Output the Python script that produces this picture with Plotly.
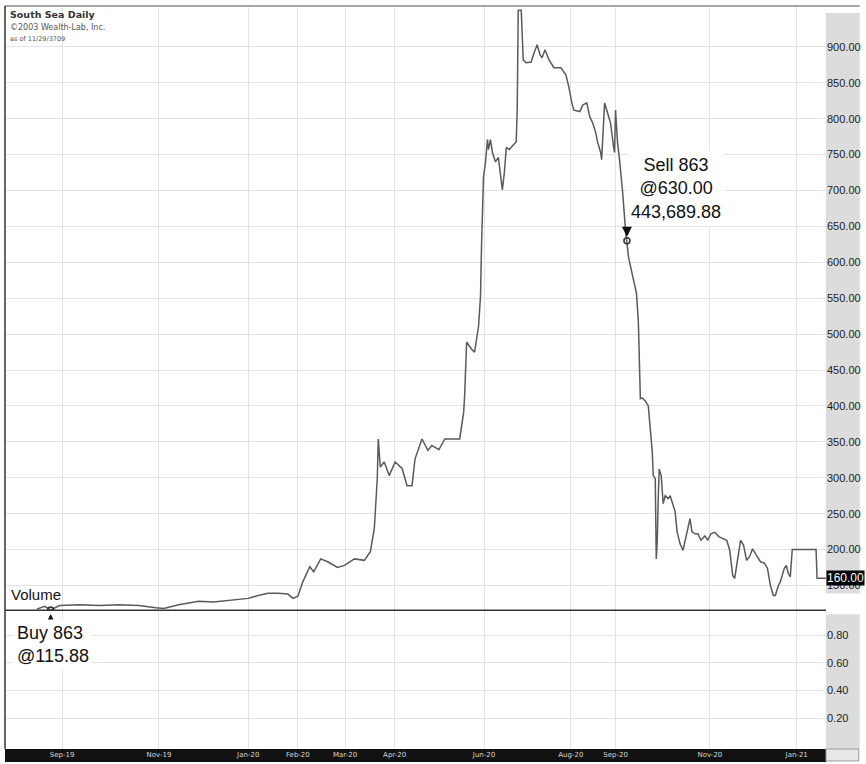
import plotly.graph_objects as go

# South Sea Company daily close, bar index (equal spacing per bar) and price
bars = [12.8, 16, 18.4, 22, 30, 38, 46, 54, 60.8, 64, 70, 78, 84, 90, 98, 102, 106, 110, 114, 116,
        118, 120, 122.8, 124.4, 127.2, 130, 134, 136.8, 140.8, 144.8, 147.2, 148.8, 150, 150.4, 150.8,
        151.2, 152.8, 154.8, 157.2, 160, 162, 164, 165.2, 168, 170.4, 172, 174.8, 177.2, 183.2, 184.8,
        185.2, 186, 188, 189.2, 190.8, 191.6, 192, 192.4, 192.8, 193.6, 194, 194.4, 194.8, 195.6, 196.4,
        197.6, 198.8, 200, 200.4, 201.2, 202, 203.2, 205.2, 206, 206.4, 206.8, 208, 208.8, 210, 212,
        213.2, 214.4, 215.6, 216.4, 217.6, 219.2, 221.2, 224, 226, 227.2, 228.4, 229.2, 231.6, 232.8,
        234.4, 235.6, 236.8, 238, 238.8, 240, 240.4, 241.2, 241.6, 242.8, 244, 245.2, 245.6, 246, 246.4,
        246.8, 247.6, 248.4, 248.8, 250, 250.6, 251.2, 253.2, 254.4, 255.2, 255.6, 256, 256.8, 258,
        259.2, 260, 260.8, 261.2, 262, 262.4, 262.8, 263.2, 263.6, 264.4, 265.2, 266, 267.2, 268, 269.2,
        270, 270.8, 272, 273.2, 274, 275.2, 276, 276.8, 278, 279.2, 280.4, 282, 283.2, 284.4, 286, 287.6,
        289.2, 290.8, 292, 293.2, 294, 295.2, 296.4, 297.6, 298.8, 300, 301.2, 302.8, 304.4, 306, 307.2,
        308.4, 309.6, 310.4, 311.6, 312.4, 313.2, 314, 314.8, 315.6, 316.4, 317.2, 326.8, 327.2, 330.8]
prices = [117, 121, 116, 122, 123, 122, 123, 122, 119, 118, 123, 128, 127, 129, 132, 136, 139, 139, 138, 132,
          135, 155, 176, 169, 187, 183, 175, 178, 187, 185, 197, 229, 299, 354, 337,
          315, 322, 303, 322, 313, 289, 289, 326, 354, 338, 345, 339, 354, 354, 391,
          414, 489, 479, 475, 511, 553, 622, 692, 719, 739, 761, 771, 757, 771, 753,
          740, 746, 715, 701, 725, 760, 757, 764, 768, 817, 951, 951, 882, 878, 879,
          892, 903, 889, 885, 896, 882, 871, 871, 861, 844, 822, 812, 810, 819,
          822, 803, 794, 781, 767, 753, 743, 799, 822, 808, 794, 761, 753, 812, 781,
          767, 743, 715, 700, 646, 630, 608, 576, 558, 517, 469, 410, 411, 407,
          400, 372, 336, 303, 299, 187, 211, 271, 312, 303, 264, 275, 271, 275, 261,
          253, 225, 208, 199, 211, 229, 243, 225, 222, 222, 213, 219, 213, 222, 224, 218,
          215, 213, 199, 164, 160, 187, 213, 206, 185, 190, 201, 192, 183, 181, 174,
          150, 136, 136, 150, 155, 164, 174, 178, 167, 162, 200, 200, 160, 160]

tick_bars = [23, 62, 98, 118, 137, 157, 193, 228, 246, 284, 319]
tick_text = ["Sep-19", "Nov-19", "Jan-20", "Feb-20", "Mar-20", "Apr-20",
             "Jun-20", "Aug-20", "Sep-20", "Nov-20", "Jan-21"]
price_ticks = list(range(150, 901, 50))
vol_ticks = [0.2, 0.4, 0.6, 0.8]

shares = 863
buy_bar, buy_price = 18.4, 115.88
sell_bar, sell_price = 250.6, 630.00
sell_value = 443689.88
last_price = 160

W, H = 866, 764
L, R, T, B = 5, 34, 6, 13


def px_x(x):
    return (x - L) / (W - L - R)


def px_y(y):
    return (H - B - y) / (H - T - B)


split = px_y(612)
grid = "#e4e4e4"
sans = "Liberation Sans, Arial, sans-serif"

fig = go.Figure()
fig.add_trace(go.Scatter(x=bars, y=prices, mode="lines",
                         line=dict(color="#5a5a5a", width=1.5), showlegend=False))
fig.add_trace(go.Scatter(x=[buy_bar, sell_bar], y=[buy_price, sell_price], mode="markers",
                         marker=dict(symbol="circle-open", size=6, color="#333333",
                                     line=dict(width=1.5)),
                         showlegend=False))
# volume pane (no volume recorded)
fig.add_trace(go.Bar(x=[], y=[], xaxis="x2", yaxis="y2", showlegend=False))

fig.update_layout(
    width=W, height=H,
    margin=dict(l=L, r=R, t=T, b=B),
    paper_bgcolor="white", plot_bgcolor="white",
    font=dict(family=sans, color="#222222"),
    xaxis=dict(domain=[0, 1], range=[0, 330.8], anchor="y", tickvals=tick_bars,
               showticklabels=False, showgrid=True, gridcolor=grid, gridwidth=1,
               zeroline=False, ticks=""),
    yaxis=dict(domain=[split, 1], range=[115.3, 957], side="right", tickvals=price_ticks,
               tickformat=".2f", showgrid=True, gridcolor=grid, zeroline=False, ticks="",
               tickfont=dict(size=11, color="#222222")),
    xaxis2=dict(domain=[0, 1], range=[0, 330.8], anchor="y2", matches="x", tickvals=tick_bars,
                ticktext=tick_text, showgrid=True, gridcolor=grid, zeroline=False, ticks="",
                tickfont=dict(size=7, color="#d8d8d8", family="DejaVu Sans")),
    yaxis2=dict(domain=[0, split], range=[-0.024, 0.981], side="right", anchor="x2",
                tickvals=vol_ticks, tickformat=".2f", showgrid=True, gridcolor=grid,
                zeroline=False, ticks="", tickfont=dict(size=11, color="#222222")),
)

shapes = [
    # axis label bands
    dict(type="rect", xref="paper", yref="paper", x0=1, x1=px_x(W), y0=px_y(595), y1=px_y(13),
         fillcolor="#dcdcdc", line=dict(width=0), layer="below"),
    dict(type="rect", xref="paper", yref="paper", x0=1, x1=px_x(W), y0=0, y1=px_y(616),
         fillcolor="#dcdcdc", line=dict(width=0), layer="below"),
    # date band
    dict(type="rect", xref="paper", yref="paper", x0=0, x1=1, y0=px_y(H), y1=0,
         fillcolor="#111111", line=dict(width=0), layer="below"),
    dict(type="rect", xref="paper", yref="paper", x0=1, x1=px_x(W - 1), y0=px_y(H - 1), y1=0,
         fillcolor="#e8e8e8", line=dict(color="#999999", width=1), layer="below"),
    # frame
    dict(type="line", xref="paper", yref="paper", x0=0, x1=px_x(W), y0=1, y1=1,
         line=dict(color="#888888", width=1.5)),
    dict(type="line", xref="paper", yref="paper", x0=0, x1=0, y0=0, y1=1,
         line=dict(color="#333333", width=1.5)),
    dict(type="line", xref="paper", yref="paper", x0=0, x1=1, y0=split, y1=split,
         line=dict(color="#333333", width=1.5)),
]
fig.update_layout(shapes=shapes)

ann = [
    dict(xref="paper", yref="paper", x=px_x(8), y=px_y(15), xanchor="left", yanchor="middle",
         text="<b>South Sea Daily</b>", showarrow=False,
         font=dict(family="DejaVu Sans", size=9.5, color="#333333")),
    dict(xref="paper", yref="paper", x=px_x(8), y=px_y(28), xanchor="left", yanchor="middle",
         text="©2003 Wealth-Lab, Inc.", showarrow=False,
         font=dict(family="DejaVu Sans", size=8, color="#555555")),
    dict(xref="paper", yref="paper", x=px_x(8), y=px_y(39), xanchor="left", yanchor="middle",
         text="as of 11/29/3709", showarrow=False,
         font=dict(family="DejaVu Sans", size=6.5, color="#555555")),
    dict(xref="paper", yref="paper", x=px_x(9), y=px_y(596), xanchor="left", yanchor="middle",
         text="Volume", showarrow=False, font=dict(size=15, color="#111111")),
    # last price tag
    dict(xref="paper", yref="y", x=1, y=last_price, xanchor="left", yanchor="middle",
         text=f"{last_price:.2f}", showarrow=False, bgcolor="black", borderpad=0,
         font=dict(size=12, color="white")),
    # trade arrows
    dict(x=buy_bar, y=buy_price, xref="x", yref="y", text="", showarrow=True,
         ax=0, ay=14, arrowhead=2, arrowsize=0.8, arrowwidth=2.5, arrowcolor="#111111", standoff=4),
    dict(x=sell_bar, y=sell_price, xref="x", yref="y", text="", showarrow=True,
         ax=0, ay=-14, arrowhead=2, arrowsize=0.8, arrowwidth=2.5, arrowcolor="#111111", standoff=4),
    # trade labels
    dict(x=buy_bar, y=buy_price, xref="x", yref="y", xshift=2, yshift=-35,
         text=f"Buy {shares}<br>@{buy_price:.2f}", showarrow=False, align="left",
         bgcolor="white", borderpad=3, font=dict(size=18, color="#111111")),
    dict(x=sell_bar, y=sell_price, xref="x", yref="y", xshift=49, yshift=52,
         text=f"Sell {shares}<br>@{sell_price:.2f}<br>{sell_value:,.2f}", showarrow=False,
         align="center", bgcolor="white", borderpad=3, font=dict(size=18, color="#111111")),
]
fig.update_layout(annotations=ann)

fig.write_html("out.html", config={"displayModeBar": False},
               post_script="document.body.style.margin='0';")
